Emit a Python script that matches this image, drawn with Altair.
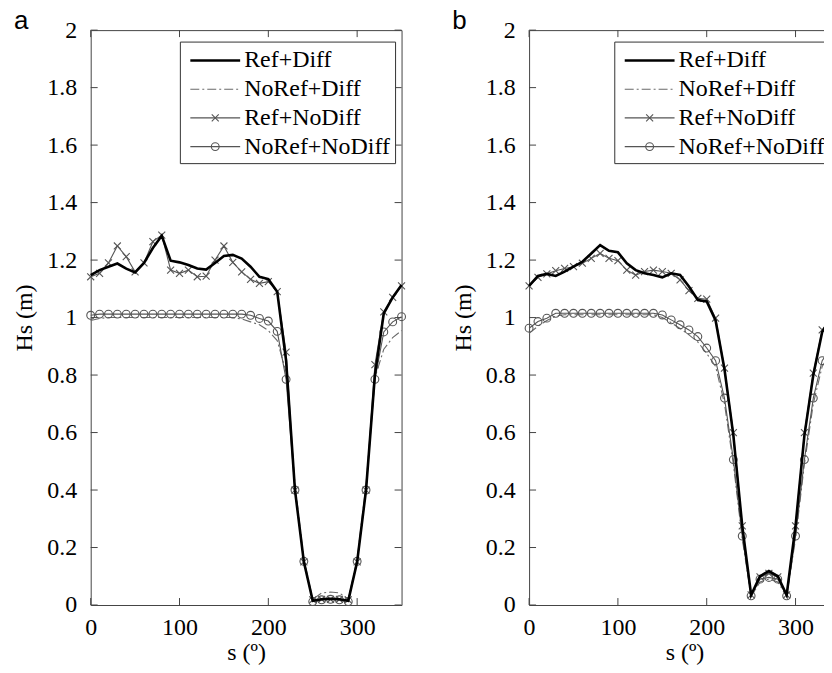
import altair as alt
import pandas as pd

# ---------------- data ----------------
s_deg = list(range(0, 360, 10))
series_names = ["Ref+Diff", "NoRef+Diff", "Ref+NoDiff", "NoRef+NoDiff"]
x_ticks = [0, 100, 200, 300]
y_ticks = [0, 0.2, 0.4, 0.6, 0.8, 1, 1.2, 1.4, 1.6, 1.8, 2]

a_ref_diff = [1.148, 1.165, 1.177, 1.188, 1.170, 1.157, 1.190, 1.242, 1.285, 1.198,
              1.192, 1.183, 1.171, 1.167, 1.190, 1.214, 1.218, 1.205, 1.177, 1.142,
              1.134, 1.090, 0.850, 0.400, 0.150, 0.015, 0.020, 0.022, 0.020, 0.015,
              0.150, 0.400, 0.800, 1.015, 1.070, 1.113]
a_noref_diff = [0.990, 0.997, 1.000, 1.000, 1.000, 1.000, 1.000, 1.000, 1.000, 1.000,
                1.000, 1.000, 1.000, 1.000, 1.000, 1.000, 1.000, 0.995, 0.985, 0.975,
                0.955, 0.920, 0.810, 0.420, 0.160, 0.020, 0.042, 0.045, 0.042, 0.020,
                0.160, 0.420, 0.790, 0.890, 0.930, 0.955]
a_ref_nodiff = [1.142, 1.154, 1.190, 1.249, 1.212, 1.159, 1.190, 1.264, 1.287, 1.165,
                1.154, 1.165, 1.142, 1.144, 1.200, 1.249, 1.192, 1.159, 1.133, 1.119,
                1.125, 1.090, 0.880, 0.400, 0.150, 0.018, 0.020, 0.020, 0.020, 0.018,
                0.150, 0.400, 0.836, 1.020, 1.070, 1.110]
a_noref_nodiff = [1.008, 1.012, 1.012, 1.012, 1.012, 1.012, 1.012, 1.012, 1.012, 1.012,
                  1.012, 1.012, 1.012, 1.012, 1.012, 1.012, 1.012, 1.012, 1.008, 0.997,
                  0.988, 0.952, 0.785, 0.400, 0.152, 0.012, 0.018, 0.020, 0.018, 0.012,
                  0.152, 0.400, 0.785, 0.950, 0.985, 1.003]

b_ref_diff = [1.110, 1.145, 1.152, 1.145, 1.160, 1.177, 1.194, 1.223, 1.252, 1.232,
              1.227, 1.189, 1.165, 1.154, 1.148, 1.140, 1.154, 1.148, 1.108, 1.061,
              1.056, 0.990, 0.820, 0.590, 0.275, 0.035, 0.100, 0.118, 0.100, 0.035,
              0.275, 0.590, 0.800, 0.950, 1.000, 1.050]
b_noref_diff = [0.945, 0.970, 0.990, 1.005, 1.010, 1.010, 1.010, 1.010, 1.010, 1.010,
                1.010, 1.010, 1.010, 1.010, 1.010, 1.000, 0.982, 0.962, 0.940, 0.915,
                0.875, 0.830, 0.700, 0.490, 0.230, 0.030, 0.080, 0.090, 0.080, 0.030,
                0.230, 0.490, 0.700, 0.830, 0.880, 0.920]
b_ref_nodiff = [1.110, 1.140, 1.152, 1.163, 1.171, 1.177, 1.189, 1.206, 1.223, 1.206,
                1.198, 1.165, 1.148, 1.160, 1.165, 1.160, 1.154, 1.131, 1.094, 1.067,
                1.064, 0.998, 0.824, 0.600, 0.275, 0.035, 0.098, 0.110, 0.098, 0.035,
                0.275, 0.600, 0.807, 0.957, 0.998, 1.040]
b_noref_nodiff = [0.963, 0.986, 0.998, 1.015, 1.015, 1.015, 1.015, 1.015, 1.015, 1.015,
                  1.015, 1.015, 1.015, 1.015, 1.015, 1.009, 0.992, 0.975, 0.957, 0.934,
                  0.894, 0.850, 0.720, 0.506, 0.240, 0.032, 0.090, 0.096, 0.090, 0.032,
                  0.240, 0.506, 0.720, 0.850, 0.897, 0.935]

# ---------------- styles / layout ----------------
W, H = 312, 577
SERIF = "Liberation Serif"
FS = 24
TICK = 7
X_MARK = "M-1,-1L1,1M-1,1L1,-1"

styles = {
    "Ref+Diff": dict(color="black", width=2.6, dash=None, marker=None),
    "NoRef+Diff": dict(color="#6a6a6a", width=1.1, dash=[9, 3, 2, 3], marker=None),
    "Ref+NoDiff": dict(color="#555555", width=1.1, dash=None, marker="x"),
    "NoRef+NoDiff": dict(color="#555555", width=1.1, dash=None, marker="circle"),
}
draw_order = ["NoRef+Diff", "NoRef+NoDiff", "Ref+NoDiff", "Ref+Diff"]

LEG_W = 216
LEG_TOP, LEG_BOT = 12, 134
LEG_Y0, LEG_DY = 30.5, 28.8

xscale = alt.Scale(domain=[0, 350], nice=False, zero=False)
yscale = alt.Scale(domain=[0, 2], nice=False)


def marker_kw(st):
    shape = X_MARK if st["marker"] == "x" else "circle"
    size = 49 if st["marker"] == "x" else 62
    return dict(shape=shape, filled=False, stroke=st["color"], strokeWidth=1.1,
                size=size, opacity=1)


def make_panel(letter, series_values, leg_x):
    layers = []
    xenc = alt.X("s:Q", scale=xscale,
                 axis=alt.Axis(values=x_ticks, title="s (º)", ticks=False, domain=False,
                               grid=False, labelPadding=11, titlePadding=1,
                               labelFlush=False, labelOverlap=False))
    yenc = alt.Y("v:Q", scale=yscale,
                 axis=alt.Axis(values=y_ticks, format="~g", title="Hs (m)", ticks=False,
                               domain=False, grid=False, labelPadding=14, titlePadding=10,
                               labelFlush=False, labelOverlap=False))
    for name in draw_order:
        st = styles[name]
        df = pd.DataFrame({"s": s_deg, "v": series_values[name]})
        lk = dict(color=st["color"], strokeWidth=st["width"])
        if st["dash"]:
            lk["strokeDash"] = st["dash"]
        layers.append(alt.Chart(df).mark_line(**lk).encode(x=xenc, y=yenc))
        if st["marker"]:
            layers.append(alt.Chart(df).mark_point(**marker_kw(st)).encode(
                x=alt.X("s:Q", scale=xscale), y=alt.Y("v:Q", scale=yscale)))

    # inward tick marks on all four sides
    xt = pd.DataFrame({"t": x_ticks})
    yt = pd.DataFrame({"t": y_ticks})
    tick_style = dict(color="#444444", strokeWidth=1)
    layers.append(alt.Chart(xt).mark_rule(**tick_style).encode(
        x=alt.X("t:Q", scale=xscale), y=alt.value(H - TICK), y2=alt.value(H)))
    layers.append(alt.Chart(xt).mark_rule(**tick_style).encode(
        x=alt.X("t:Q", scale=xscale), y=alt.value(0), y2=alt.value(TICK)))
    layers.append(alt.Chart(yt).mark_rule(**tick_style).encode(
        y=alt.Y("t:Q", scale=yscale), x=alt.value(0), x2=alt.value(TICK)))
    layers.append(alt.Chart(yt).mark_rule(**tick_style).encode(
        y=alt.Y("t:Q", scale=yscale), x=alt.value(W - TICK), x2=alt.value(W)))

    # legend box
    box = pd.DataFrame({"k": [0]})
    layers.append(alt.Chart(box).mark_rect(fill="white", stroke="#333333", strokeWidth=1).encode(
        x=alt.value(leg_x), x2=alt.value(leg_x + LEG_W),
        y=alt.value(LEG_TOP), y2=alt.value(LEG_BOT)))
    for i, name in enumerate(series_names):
        st = styles[name]
        row = pd.DataFrame({"name": [name], "py": [LEG_Y0 + LEG_DY * i]})
        lk = dict(color=st["color"], strokeWidth=st["width"])
        if st["dash"]:
            lk["strokeDash"] = st["dash"]
        layers.append(alt.Chart(row).mark_rule(**lk).encode(
            x=alt.value(leg_x + 10), x2=alt.value(leg_x + 60),
            y=alt.Y("py:Q", scale=None)))
        if st["marker"]:
            layers.append(alt.Chart(row).mark_point(**marker_kw(st)).encode(
                x=alt.value(leg_x + 35), y=alt.Y("py:Q", scale=None)))
        layers.append(alt.Chart(row).mark_text(font=SERIF, fontSize=FS, align="left",
                                               baseline="middle", color="black").encode(
            x=alt.value(leg_x + 64), y=alt.Y("py:Q", scale=None), text="name:N"))

    # panel letter
    lab = pd.DataFrame({"t": [letter]})
    layers.append(alt.Chart(lab).mark_text(font="Liberation Sans", fontSize=26, align="left",
                                           baseline="alphabetic", color="black").encode(
        x=alt.value(-77), y=alt.value(-1), text="t:N"))

    return alt.layer(*layers).properties(width=W, height=H)


pa = make_panel("a", {"Ref+Diff": a_ref_diff, "NoRef+Diff": a_noref_diff,
                      "Ref+NoDiff": a_ref_nodiff, "NoRef+NoDiff": a_noref_nodiff}, 90)
pb = make_panel("b", {"Ref+Diff": b_ref_diff, "NoRef+Diff": b_noref_diff,
                      "Ref+NoDiff": b_ref_nodiff, "NoRef+NoDiff": b_noref_nodiff}, 86)

chart = alt.hconcat(pa, pb, spacing=42).properties(
    padding={"left": 4, "top": -2, "right": -23, "bottom": -2}
).configure_view(stroke="#444444", strokeWidth=1).configure_axis(
    labelFont=SERIF, labelFontSize=FS, labelColor="black",
    titleFont=SERIF, titleFontSize=FS, titleFontWeight="normal", titleColor="black"
)

chart.save("out.html", embed_options={"renderer": "svg", "actions": False})
